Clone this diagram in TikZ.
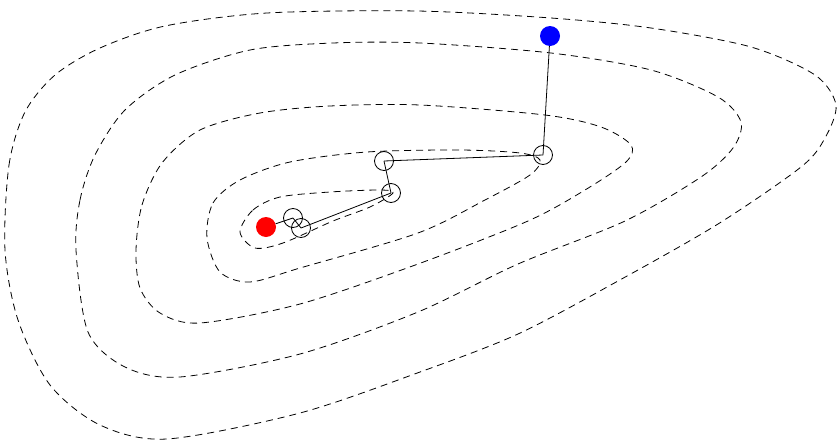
\documentclass[tikz,border=0pt]{standalone}
\usepackage{tikz}

\begin{document}
\begin{tikzpicture}[
    x=1pt, y=-1pt,
    % 定义样式
    contour/.style={draw, line width=0.8pt, dash pattern=on 7pt off 5pt},
    iter/.style={circle, draw, line width=0.8pt, minimum size=19pt, inner sep=0pt},
    start/.style={circle, fill=blue, minimum size=20pt, inner sep=0pt},
    optimum/.style={circle, fill=red, minimum size=20pt, inner sep=0pt},
    trail/.style={line width=0.8pt}
]

\useasboundingbox (0,0) rectangle (838,442);

% --- 等高线 ---
\draw [contour] plot [smooth cycle] coordinates {(5,250) (9,165) (25,112) (55,75) (100,48) (165,26) (267,13) (417,11) (551,18) (651,28) (751,47) (815,75) (836,105) (825,138) (801,167) (718,224) (618,281) (518,334) (420,372) (300,413) (167,439) (100,425) (50,385) (18,320)};
\draw [contour] plot [smooth cycle] coordinates {(76,250) (80,200) (95,155) (125,110) (175,75) (250,50) (333,43) (420,43) (551,53) (651,70) (718,97) (741,122) (733,148) (701,177) (625,221) (518,264) (418,312) (300,354) (180,377) (125,367) (88,332)};
\draw [contour] plot [smooth cycle] coordinates {(136,250) (142,205) (162,163) (200,130) (260,113) (330,106) (420,105) (545,115) (601,127) (631,145) (626,162) (585,190) (528,221) (418,264) (300,304) (200,323) (160,313) (140,288)};
\draw [contour] plot [smooth cycle] coordinates {(207,238) (213,203) (240,180) (290,162) (367,152) (460,150) (520,153) (540,160) (530,175) (485,200) (418,233) (300,268) (250,282) (220,272)};
\draw [contour] plot [smooth cycle] coordinates {(240,232) (253,210) (280,197) (330,192) (380,190) (393,193) (370,207) (333,221) (283,243) (255,248)};

% --- 迭代点 ---
\node (start) [start] at (550,36) {};
\node (it1) [iter] at (543,155) {};
\node (it2) [iter] at (384,161) {};
\node (it3) [iter] at (391,193) {};
\node (it4) [iter] at (301,228) {};
\node (it5) [iter] at (293,218) {};
\node (opt) [optimum] at (266,227) {};

% --- 绘制路径 ---
\draw [trail] (start) -- (it1.center);
\draw [trail] (it1.center) -- (it2.center);
\draw [trail] (it2.center) -- (it3.center);
\draw [trail] (it3.center) -- (it4.center);
\draw [trail] (it4.center) -- (it5.center);
\draw [trail] (it5.center) -- (opt);

\end{tikzpicture}
\end{document}
